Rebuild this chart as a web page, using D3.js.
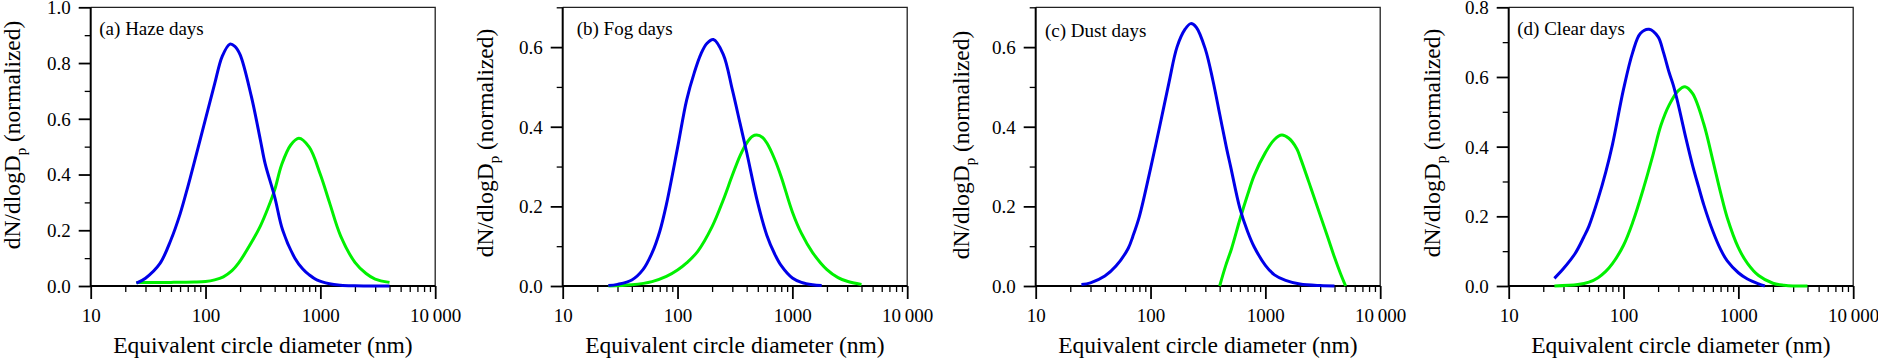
<!DOCTYPE html>
<html>
<head>
<meta charset="utf-8">
<script src="https://cdn.jsdelivr.net/npm/d3@7"></script>
<style>
  body { margin: 0; background: #fff; }
  svg { display: block; }
</style>
</head>
<body>
<div id="chart"></div>
<script>
// Panel titles and axis ticks
const panelTitles = ["(a) Haze days", "(b) Fog days", "(c) Dust days", "(d) Clear days"];
const xTickValues = [10, 100, 1000, 10000];
const xTickLabels = ["10", "100", "1000", "10\u2009000"];
const yMaxValues = [1.0, 0.7, 0.7, 0.8];
const yTickValues = [
    [0, 0.2, 0.4, 0.6, 0.8, 1.0],
    [0, 0.2, 0.4, 0.6],
    [0, 0.2, 0.4, 0.6],
    [0, 0.2, 0.4, 0.6, 0.8]
];

// (a) Haze days - blue mode and green mode (diameter nm, dN/dlogDp)
const hazeBlueD = [25, 30, 40, 50, 60, 70, 80, 100, 120, 140, 163, 180, 200, 250, 300, 330, 400, 470, 600, 700, 800, 930, 1200, 1500, 2000, 3000, 4000];
const hazeBlueN = [0.010, 0.028, 0.080, 0.166, 0.258, 0.355, 0.445, 0.600, 0.725, 0.825, 0.868, 0.860, 0.830, 0.682, 0.525, 0.440, 0.320, 0.200, 0.100, 0.062, 0.040, 0.022, 0.008, 0.003, 0.001, 0.000, 0.000];
const hazeGreenD = [25, 50, 80, 100, 120, 143, 170, 193, 250, 300, 350, 400, 460, 550, 650, 800, 1000, 1200, 1500, 2000, 2500, 3000, 4000];
const hazeGreenN = [0.013, 0.013, 0.014, 0.016, 0.022, 0.033, 0.055, 0.081, 0.155, 0.215, 0.280, 0.345, 0.435, 0.505, 0.530, 0.498, 0.400, 0.300, 0.180, 0.085, 0.045, 0.025, 0.013];

// (b) Fog days
const fogBlueD = [25, 30, 40, 50, 60, 70, 80, 100, 120, 140, 160, 180, 205, 250, 300, 350, 400, 500, 600, 700, 800, 1000, 1200, 1500, 1800];
const fogBlueN = [0.001, 0.004, 0.015, 0.041, 0.083, 0.137, 0.205, 0.347, 0.467, 0.536, 0.583, 0.609, 0.619, 0.582, 0.493, 0.409, 0.336, 0.208, 0.127, 0.081, 0.051, 0.020, 0.009, 0.003, 0.001];
const fogGreenD = [25, 40, 60, 80, 100, 120, 150, 200, 250, 300, 350, 400, 450, 490, 550, 600, 700, 800, 1000, 1200, 1500, 2000, 2500, 3000, 4000];
const fogGreenN = [0.000, 0.003, 0.011, 0.024, 0.040, 0.058, 0.087, 0.149, 0.216, 0.278, 0.327, 0.359, 0.376, 0.379, 0.373, 0.359, 0.319, 0.274, 0.186, 0.132, 0.084, 0.041, 0.021, 0.012, 0.004];

// (c) Dust days
const dustBlueD = [25, 30, 40, 50, 64, 70, 80, 100, 120, 145, 170, 200, 224, 250, 300, 350, 400, 460, 500, 600, 700, 800, 1000, 1200, 1500, 2000, 3000, 4000];
const dustBlueN = [0.004, 0.008, 0.025, 0.050, 0.095, 0.124, 0.175, 0.295, 0.400, 0.512, 0.600, 0.645, 0.659, 0.650, 0.595, 0.515, 0.432, 0.345, 0.298, 0.195, 0.137, 0.098, 0.052, 0.028, 0.014, 0.005, 0.001, 0.000];
const dustGreenD = [400, 450, 509, 600, 700, 800, 1000, 1200, 1390, 1600, 1877, 2000, 2500, 3000, 3500, 4000, 4500, 5000];
const dustGreenN = [0.000, 0.050, 0.095, 0.167, 0.229, 0.278, 0.335, 0.368, 0.379, 0.371, 0.345, 0.325, 0.245, 0.178, 0.122, 0.072, 0.032, 0.000];

// (d) Clear days
const clearBlueD = [25, 30, 38, 45, 50, 60, 70, 80, 100, 120, 140, 167, 200, 222, 250, 272, 300, 350, 400, 450, 500, 600, 700, 800, 1000, 1200, 1500, 1700];
const clearBlueN = [0.022, 0.050, 0.094, 0.140, 0.172, 0.250, 0.327, 0.405, 0.565, 0.670, 0.725, 0.737, 0.715, 0.672, 0.612, 0.575, 0.520, 0.423, 0.345, 0.285, 0.233, 0.157, 0.105, 0.072, 0.038, 0.020, 0.006, 0.000];
const clearGreenD = [25, 40, 50, 60, 70, 80, 100, 120, 150, 180, 212, 250, 300, 343, 400, 500, 600, 700, 800, 1000, 1200, 1500, 2000, 2500, 3000, 4000];
const clearGreenN = [0.000, 0.004, 0.011, 0.024, 0.042, 0.064, 0.117, 0.182, 0.283, 0.375, 0.462, 0.520, 0.561, 0.572, 0.552, 0.465, 0.360, 0.268, 0.196, 0.110, 0.065, 0.030, 0.008, 0.002, 0.000, 0.000];

// Mise en page
const WIDTH = 1878;
const HEIGHT = 361;
const PANEL_LEFT = [90.7, 562.7, 1035.7, 1508.7];
const PLOT_W = 344.5;
const PLOT_TOP = 7.3;
const PLOT_BOTTOM = 286;
const YTITLE_DX = [70.5, 69.5, 67, 68.5];
const YTITLE_CY = [135, 143, 145, 143];
const LABEL_DX = [8.6, 14, 9.3, 8.6];
const LABEL_Y = [35, 35, 37.3, 35];
const FONT = '"Liberation Serif", "Times New Roman", serif';
const BLUE = '#0000e8';
const GREEN = '#00f000';

const zip = (ds, ns) => ds.map((d, i) => [d, ns[i]]);

const panels = [
    { blue: zip(hazeBlueD, hazeBlueN), green: zip(hazeGreenD, hazeGreenN) },
    { blue: zip(fogBlueD, fogBlueN), green: zip(fogGreenD, fogGreenN) },
    { blue: zip(dustBlueD, dustBlueN), green: zip(dustGreenD, dustGreenN) },
    { blue: zip(clearBlueD, clearBlueN), green: zip(clearGreenD, clearGreenN) }
];

// Graduations mineures en x : 2..9 par décade
const xMinor = [];
[10, 100, 1000].forEach(dec => {
    for (let k = 2; k <= 9; k++) xMinor.push(k * dec);
});

const svg = d3.select('#chart').append('svg')
    .attr('width', WIDTH)
    .attr('height', HEIGHT)
    .attr('font-family', FONT);

svg.append('rect')
    .attr('width', WIDTH)
    .attr('height', HEIGHT)
    .attr('fill', '#fff');

panels.forEach((p, i) => {
    const left = PANEL_LEFT[i];
    const right = left + PLOT_W;
    const g = svg.append('g');

    const x = d3.scaleLog().domain([10, 10000]).range([left, right]);
    const y = d3.scaleLinear().domain([0, yMaxValues[i]]).range([PLOT_BOTTOM, PLOT_TOP]);

    const yMinor = d3.range(1, Math.round(yMaxValues[i] * 10) + 1)
        .map(k => k / 10)
        .filter(v => !yTickValues[i].some(t => Math.abs(t - v) < 1e-6));

    // Cadre fin (haut + droite)
    g.append('path')
        .attr('d', `M${left},${PLOT_TOP}H${right}V${PLOT_BOTTOM}`)
        .attr('fill', 'none')
        .attr('stroke', '#222')
        .attr('stroke-width', 1.3);

    // Axe X - graduations mineures
    g.append('g')
        .attr('transform', `translate(0,${PLOT_BOTTOM})`)
        .call(d3.axisBottom(x).tickValues(xMinor).tickSize(6).tickFormat(''))
        .call(a => a.select('.domain').remove())
        .selectAll('line')
        .attr('stroke', '#000')
        .attr('stroke-width', 1.3);

    // Axe X - graduations majeures
    const xa = g.append('g')
        .attr('transform', `translate(0,${PLOT_BOTTOM})`)
        .call(d3.axisBottom(x).tickValues(xTickValues).tickSize(13)
            .tickFormat((d, j) => xTickLabels[j]));
    xa.select('.domain').remove();
    xa.attr('font-family', FONT).attr('font-size', 19);
    xa.selectAll('line').attr('stroke', '#000').attr('stroke-width', 1.8);
    xa.selectAll('text').attr('y', 35.7).attr('dy', 0).attr('fill', '#000');

    // Axe Y - graduations mineures
    g.append('g')
        .attr('transform', `translate(${left},0)`)
        .call(d3.axisLeft(y).tickValues(yMinor).tickSize(6).tickFormat(''))
        .call(a => a.select('.domain').remove())
        .selectAll('line')
        .attr('stroke', '#000')
        .attr('stroke-width', 1.3);

    // Axe Y - graduations majeures
    const ya = g.append('g')
        .attr('transform', `translate(${left},0)`)
        .call(d3.axisLeft(y).tickValues(yTickValues[i]).tickSize(12).tickPadding(8)
            .tickFormat(d3.format('.1f')));
    ya.select('.domain').remove();
    ya.attr('font-family', FONT).attr('font-size', 19);
    ya.selectAll('line').attr('stroke', '#000').attr('stroke-width', 1.8);
    ya.selectAll('text').attr('dy', '0.34em').attr('fill', '#000');

    // Axes principaux (gauche + bas)
    g.append('path')
        .attr('d', `M${left},${PLOT_TOP}V${PLOT_BOTTOM}H${right}`)
        .attr('fill', 'none')
        .attr('stroke', '#000')
        .attr('stroke-width', 2);

    // Courbes
    const line = d3.line()
        .x(d => x(d[0]))
        .y(d => Math.min(y(d[1]), PLOT_BOTTOM))
        .curve(d3.curveCatmullRom.alpha(0.5));

    g.append('path')
        .datum(p.green)
        .attr('d', line)
        .attr('fill', 'none')
        .attr('stroke', GREEN)
        .attr('stroke-width', 3);

    g.append('path')
        .datum(p.blue)
        .attr('d', line)
        .attr('fill', 'none')
        .attr('stroke', BLUE)
        .attr('stroke-width', 3);

    // Titre du panneau
    g.append('text')
        .attr('x', left + LABEL_DX[i])
        .attr('y', LABEL_Y[i])
        .attr('font-size', 19)
        .attr('fill', '#000')
        .text(panelTitles[i]);

    // Titre axe X
    g.append('text')
        .attr('x', (left + right) / 2)
        .attr('y', 353.3)
        .attr('text-anchor', 'middle')
        .attr('font-size', 23.5)
        .attr('fill', '#000')
        .text('Equivalent circle diameter (nm)');

    // Titre axe Y avec indice
    const yt = g.append('text')
        .attr('transform', `translate(${left - YTITLE_DX[i]},${YTITLE_CY[i]}) rotate(-90)`)
        .attr('text-anchor', 'middle')
        .attr('font-size', 23.5)
        .attr('fill', '#000');
    yt.append('tspan').text('dN/dlogD');
    yt.append('tspan').attr('dy', 6).attr('font-size', 15).text('p');
    yt.append('tspan').attr('dy', -6).text(' (normalized)');
});
</script>
</body>
</html>
